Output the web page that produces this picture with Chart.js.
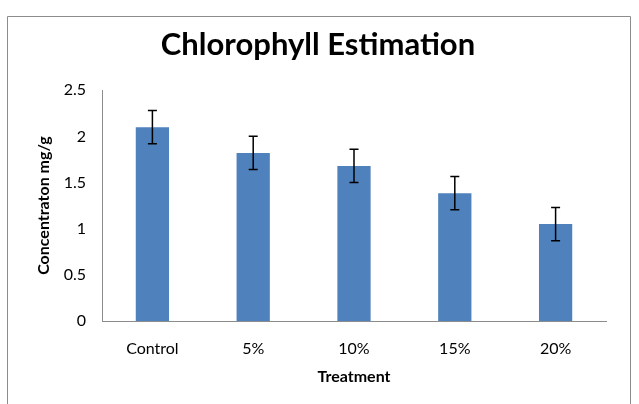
<!DOCTYPE html>
<html>
<head>
    <title>Chlorophyll Estimation</title>
    <script src="https://cdn.jsdelivr.net/npm/chart.js"></script>
    <style>
        body { margin: 0; background: #fff; }
    </style>
</head>
<body>
    <canvas id="chart" width="639" height="404"></canvas>

    <script>
        const treatments = ['Control', '5%', '10%', '15%', '20%'];
        const concentration = [2.1, 1.82, 1.68, 1.385, 1.05];
        const errors = [0.18, 0.18, 0.18, 0.18, 0.18];
        const yTicks = [0, 0.5, 1, 1.5, 2, 2.5];

        const FONT = 'Lato, "Open Sans", sans-serif';

        // cadre gris autour du graphique
        const frame = {
            id: 'frame',
            beforeDraw(chart) {
                const c = chart.ctx;
                c.save();
                c.strokeStyle = '#8c8c8c';
                c.lineWidth = 1;
                c.beginPath();
                c.moveTo(7.5, 410);
                c.lineTo(7.5, 16.5);
                c.lineTo(630.5, 16.5);
                c.lineTo(630.5, 410);
                c.stroke();
                c.restore();
            }
        };

        // barres d'erreur
        const errorBars = {
            id: 'errorBars',
            afterDatasetsDraw(chart) {
                const c = chart.ctx;
                const x = chart.scales.x, y = chart.scales.y;
                c.save();
                c.strokeStyle = '#000';
                c.lineWidth = 1.5;
                concentration.forEach((v, i) => {
                    const px = x.getPixelForValue(i);
                    const top = y.getPixelForValue(v + errors[i]);
                    const bot = y.getPixelForValue(v - errors[i]);
                    c.beginPath();
                    c.moveTo(px, top); c.lineTo(px, bot);
                    c.moveTo(px - 4.5, top); c.lineTo(px + 4.5, top);
                    c.moveTo(px - 4.5, bot); c.lineTo(px + 4.5, bot);
                    c.stroke();
                });
                c.restore();
            }
        };

        new Chart(document.getElementById('chart'), {
            type: 'bar',
            data: {
                labels: treatments,
                datasets: [{
                    data: concentration,
                    backgroundColor: '#4f81bd',
                    barPercentage: 1,
                    categoryPercentage: 0.33
                }]
            },
            options: {
                responsive: false,
                animation: false,
                layout: { padding: { left: 30, right: 33, top: 0, bottom: 14 } },
                plugins: {
                    legend: { display: false },
                    tooltip: { enabled: false },
                    title: {
                        display: true,
                        text: 'Chlorophyll Estimation',
                        color: '#000',
                        font: { family: FONT, size: 31, weight: 'bold', lineHeight: 1.2 },
                        padding: { top: 26, bottom: 27 }
                    }
                },
                scales: {
                    x: {
                        grid: { display: false, drawTicks: false },
                        border: { display: true, color: '#8c8c8c', width: 1 },
                        ticks: { color: '#000', font: { family: FONT, size: 16 }, padding: 18 },
                        title: {
                            display: true, text: 'Treatment', color: '#000',
                            font: { family: FONT, size: 16, weight: 'bold' },
                            padding: { top: 8 }
                        },
                        afterFit(s) { s.height = 69; }
                    },
                    y: {
                        min: 0, max: 2.5,
                        afterBuildTicks(s) { s.ticks = yTicks.map(v => ({ value: v })); },
                        grid: { display: false, drawTicks: false },
                        border: { display: true, color: '#8c8c8c', width: 1 },
                        ticks: {
                            color: '#000', font: { family: FONT, size: 16 }, padding: 16,
                            callback: v => String(v)
                        },
                        title: {
                            display: true, text: 'Concentraton mg/g', color: '#000',
                            font: { family: FONT, size: 16, weight: 'bold' },
                            padding: { bottom: 6 }
                        },
                        afterFit(s) { s.width = 72; }
                    }
                }
            },
            plugins: [frame, errorBars]
        });
    </script>
</body>
</html>
